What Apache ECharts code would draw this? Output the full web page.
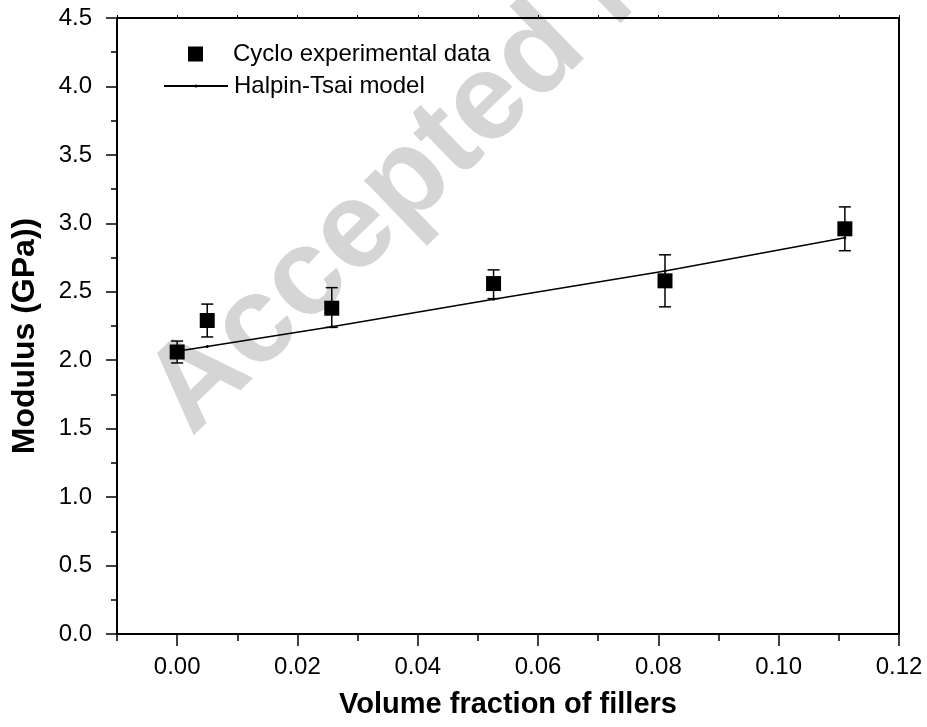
<!DOCTYPE html>
<html>
<head>
<meta charset="utf-8">
<script src="https://cdn.jsdelivr.net/npm/echarts@6/dist/echarts.min.js"></script>
<style>
  html, body { margin: 0; padding: 0; background: #fff; }
  #chart { width: 927px; height: 727px; }
</style>
</head>
<body>
<div id="chart"></div>
<script>
// Volume fraction of fillers and measured modulus (GPa) with error range
const volumeFraction = [0, 0.005, 0.0257, 0.0526, 0.0811, 0.111];
const modulusMean = [2.06, 2.29, 2.38, 2.56, 2.58, 2.96];
const modulusLow = [1.98, 2.17, 2.24, 2.45, 2.39, 2.80];
const modulusHigh = [2.14, 2.41, 2.53, 2.66, 2.77, 3.12];

// Halpin-Tsai model prediction at the same fractions
const modelFraction = [0, 0.005, 0.0257, 0.0526, 0.0811, 0.111];
const modelModulus = [2.065, 2.10, 2.245, 2.445, 2.652, 2.895];

// Axis tick labels
const xMajorTicks = [0, 0.02, 0.04, 0.06, 0.08, 0.10, 0.12];
const yTickLabels = ['0.0', '0.5', '1.0', '1.5', '2.0', '2.5', '3.0', '3.5', '4.0', '4.5'];

const FONT = "'Liberation Sans', Arial, Helvetica, sans-serif";

const expData = volumeFraction.map((x, i) => [x, modulusMean[i]]);
const errData = volumeFraction.map((x, i) => [x, modulusLow[i], modulusHigh[i]]);
const modelData = modelFraction.map((x, i) => [x, modelModulus[i]]);

const chart = echarts.init(document.getElementById('chart'), null, { renderer: 'canvas' });

const frameLine = { show: true, onZero: false, lineStyle: { color: '#000', width: 2 } };

const option = {
  backgroundColor: '#fff',
  animation: false,
  textStyle: { fontFamily: FONT },
  grid: { left: 117, right: 28, top: 18, bottom: 93, containLabel: false },
  legend: [
    {
      data: [{ name: 'Cyclo experimental data', icon: 'rect' }],
      left: 188, top: 42, padding: 0,
      itemWidth: 15, itemHeight: 15,
      selectedMode: false,
      textStyle: { fontFamily: FONT, fontSize: 24, color: '#000', padding: [0, 0, 0, 25] }
    },
    {
      data: ['Halpin-Tsai model'],
      left: 163, top: 74, padding: 0,
      itemWidth: 64, itemHeight: 4,
      selectedMode: false,
      textStyle: { fontFamily: FONT, fontSize: 24, color: '#000', padding: [0, 0, 0, 1] }
    }
  ],
  xAxis: [
    {
      type: 'value', position: 'bottom',
      min: -0.01, max: 0.12, interval: 0.01,
      axisLine: frameLine,
      axisTick: { show: true, inside: false, length: 7, lineStyle: { color: '#000', width: 1.5 } },
      axisLabel: {
        show: true, margin: 21, fontSize: 24, fontFamily: FONT, color: '#000',
        customValues: xMajorTicks,
        formatter: v => v.toFixed(2)
      },
      splitLine: { show: false }
    },
    {
      type: 'value', position: 'bottom',
      min: -0.01, max: 0.12, interval: 0.01,
      axisLine: { show: false },
      axisTick: { show: true, inside: false, length: 12, customValues: xMajorTicks, lineStyle: { color: '#000', width: 1.5 } },
      axisLabel: { show: false },
      splitLine: { show: false }
    },
    {
      type: 'value', position: 'top',
      min: -0.01, max: 0.12, interval: 0.01,
      axisLine: frameLine,
      axisTick: { show: true, inside: false, length: 3, lineStyle: { color: '#000', width: 1 } },
      axisLabel: { show: false },
      splitLine: { show: false }
    }
  ],
  yAxis: [
    {
      type: 'value', position: 'left',
      min: 0, max: 4.5, interval: 0.5,
      axisLine: frameLine,
      axisTick: { show: true, inside: false, length: 11, lineStyle: { color: '#000', width: 1.5 } },
      minorTick: { show: true, splitNumber: 2, length: 6, lineStyle: { color: '#000', width: 1.5 } },
      axisLabel: {
        show: true, margin: 25, fontSize: 24, fontFamily: FONT, color: '#000',
        formatter: v => yTickLabels[Math.round(v / 0.5)]
      },
      splitLine: { show: false }
    },
    {
      type: 'value', position: 'right',
      min: 0, max: 4.5, interval: 0.5,
      axisLine: frameLine,
      axisTick: { show: false },
      axisLabel: { show: false },
      splitLine: { show: false }
    }
  ],
  graphic: [
    {
      // diagonal stamp across the plot
      type: 'text', z: -1, silent: true,
      x: 168, y: 413, rotation: 44 * Math.PI / 180,
      style: {
        text: 'Accepted Manuscript',
        font: "bold 123px 'Liberation Sans', Arial, sans-serif",
        fill: '#d5d5d5',
        align: 'left', verticalAlign: 'middle',
        textAlign: 'left', textVerticalAlign: 'middle'
      }
    },
    {
      type: 'text', silent: true,
      x: 25, y: 336, rotation: Math.PI / 2,
      style: {
        text: 'Modulus (GPa))',
        font: "bold 32px 'Liberation Sans', Arial, sans-serif",
        fill: '#000',
        align: 'center', verticalAlign: 'middle',
        textAlign: 'center', textVerticalAlign: 'middle'
      }
    },
    {
      type: 'text', silent: true,
      x: 508, y: 705,
      style: {
        text: 'Volume fraction of fillers',
        font: "bold 29px 'Liberation Sans', Arial, sans-serif",
        fill: '#000',
        align: 'center', verticalAlign: 'middle',
        textAlign: 'center', textVerticalAlign: 'middle'
      }
    }
  ],
  series: [
    {
      name: 'Halpin-Tsai model',
      type: 'line',
      data: modelData,
      xAxisIndex: 0, yAxisIndex: 0,
      symbol: 'circle', symbolSize: 3,
      showSymbol: true,
      itemStyle: { color: '#000' },
      lineStyle: { color: '#000', width: 1.6 },
      z: 3
    },
    {
      name: 'error',
      type: 'custom',
      data: errData,
      xAxisIndex: 0, yAxisIndex: 0,
      encode: { x: 0, y: [1, 2] },
      renderItem: function (params, api) {
        const x = api.value(0);
        const lo = api.coord([x, api.value(1)]);
        const hi = api.coord([x, api.value(2)]);
        const half = 6;
        const st = { stroke: '#000', lineWidth: 1.5 };
        return {
          type: 'group',
          children: [
            { type: 'line', shape: { x1: hi[0], y1: hi[1], x2: lo[0], y2: lo[1] }, style: st },
            { type: 'line', shape: { x1: hi[0] - half, y1: hi[1], x2: hi[0] + half, y2: hi[1] }, style: st },
            { type: 'line', shape: { x1: lo[0] - half, y1: lo[1], x2: lo[0] + half, y2: lo[1] }, style: st }
          ]
        };
      },
      z: 4
    },
    {
      name: 'Cyclo experimental data',
      type: 'scatter',
      data: expData,
      xAxisIndex: 0, yAxisIndex: 0,
      symbol: 'rect', symbolSize: 15,
      itemStyle: { color: '#000', opacity: 1 },
      z: 5
    }
  ]
};

chart.setOption(option);
</script>
</body>
</html>
